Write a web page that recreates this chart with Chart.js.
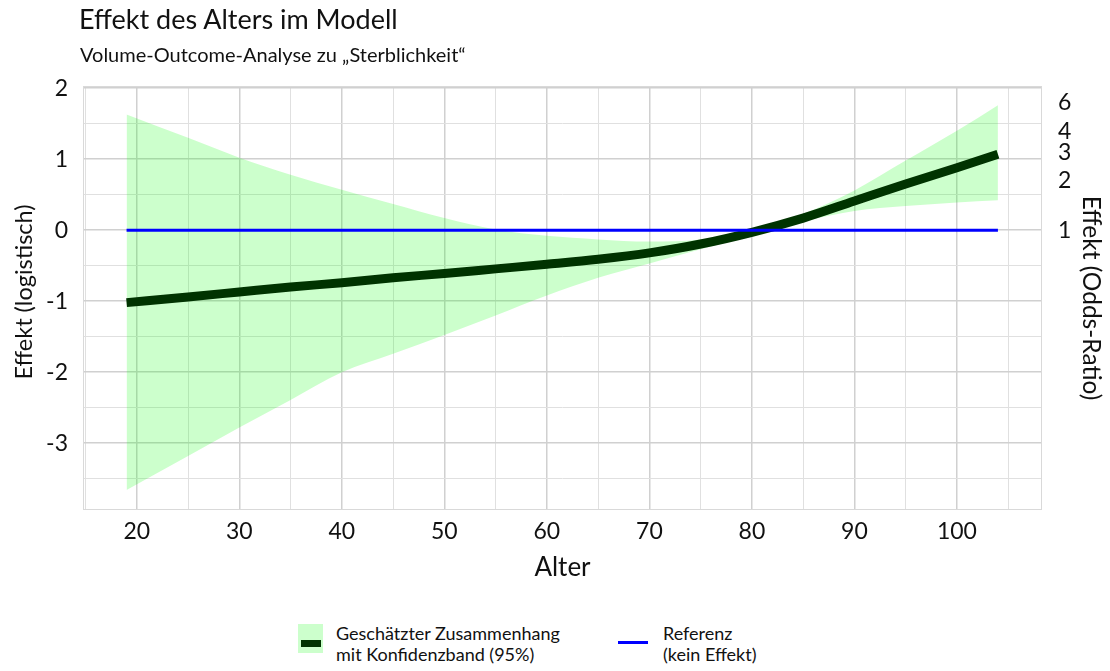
<!DOCTYPE html>
<html>
<head>
<meta charset="utf-8">
<script src="https://cdn.jsdelivr.net/npm/chart.js@4/dist/chart.umd.min.js"></script>
<style>
  html, body { margin:0; padding:0; background:#fff; }
  body { width:1110px; height:671px; position:relative; overflow:hidden; font-family: Lato, "Open Sans", sans-serif; color:#111; }
  #c { position:absolute; left:0; top:0; }
  .title { position:absolute; left:79px; top:3px; font-size:27px; line-height:32px; white-space:nowrap; }
  .subtitle { position:absolute; left:80px; top:43px; font-size:20px; line-height:22px; white-space:nowrap; }
  .leg { position:absolute; font-size:18px; line-height:21px; white-space:nowrap; }
  .sw1 { position:absolute; left:298px; top:624px; width:25px; height:29px; background:#ccffcc; }
  .sw1 i { position:absolute; left:3px; top:16px; width:20px; height:7px; background:#003300; }
  .sw2 { position:absolute; left:618px; top:641px; width:30px; height:3px; background:#0000ff; }
</style>
</head>
<body>
<canvas id="c" width="1110" height="600"></canvas>
<div class="title">Effekt des Alters im Modell</div>
<div class="subtitle">Volume-Outcome-Analyse zu „Sterblichkeit“</div>
<div class="sw1"><i></i></div>
<div class="leg" style="left:336px; top:623px;">Geschätzter Zusammenhang<br>mit Konfidenzband (95%)</div>
<div class="sw2"></div>
<div class="leg" style="left:663px; top:623px;">Referenz<br>(kein Effekt)</div>
<script>
// ---- data ----
const ages      = [19, 25, 30, 35, 40, 45, 50, 55, 60, 65, 70, 75, 80, 85, 90, 95, 100, 104];
const estimate  = [-1.02, -0.94, -0.87, -0.80, -0.74, -0.67, -0.61, -0.545, -0.48, -0.41, -0.32, -0.195, -0.03, 0.17, 0.41, 0.65, 0.88, 1.07];
const upperCI   = [1.63, 1.30, 1.02, 0.78, 0.57, 0.37, 0.17, 0.01, -0.08, -0.13, -0.16, -0.13, 0.00, 0.23, 0.56, 0.98, 1.40, 1.76];
const lowerCI   = [-3.66, -3.18, -2.78, -2.39, -2.00, -1.74, -1.475, -1.20, -0.92, -0.67, -0.47, -0.27, -0.08, 0.12, 0.27, 0.34, 0.39, 0.42];
const refAges   = [19, 104];
const refValues = [0, 0];
const xTickValues = [15, 20, 25, 30, 35, 40, 45, 50, 55, 60, 65, 70, 75, 80, 85, 90, 95, 100, 105];
const yTickValues = [-3.5, -3, -2.5, -2, -1.5, -1, -0.5, 0, 0.5, 1, 1.5, 2];
const oddsRatioTicks = [1, 2, 3, 4, 6];

const pts = (xs, ys) => xs.map((x, i) => ({x, y: ys[i]}));
const FONT = "Lato, 'Open Sans', sans-serif";
const isMajor = v => Math.abs(v - Math.round(v)) < 1e-9;

const borderPlugin = {
  id: 'areaBorder',
  beforeDatasetsDraw(chart) {
    const {ctx, chartArea: a} = chart;
    ctx.save();
    ctx.strokeStyle = '#d9d9d9';
    ctx.lineWidth = 1;
    ctx.strokeRect(a.left + 0.5, a.top + 0.5, a.right - a.left - 1, a.bottom - a.top - 1);
    ctx.restore();
  }
};

new Chart(document.getElementById('c'), {
  type: 'line',
  data: {
    datasets: [
      { label: 'Referenz', data: pts(refAges, refValues), borderColor: '#0000ff', borderWidth: 3, pointRadius: 0, fill: false },
      { label: 'Geschätzter Zusammenhang', data: pts(ages, estimate), borderColor: '#003300', borderWidth: 9, pointRadius: 0, cubicInterpolationMode: 'monotone', fill: false, borderCapStyle: 'butt' },
      { label: 'obere Grenze', data: pts(ages, upperCI), borderColor: 'transparent', borderWidth: 0, pointRadius: 0, cubicInterpolationMode: 'monotone', fill: '+1', backgroundColor: 'rgba(0,255,0,0.2)' },
      { label: 'untere Grenze', data: pts(ages, lowerCI), borderColor: 'transparent', borderWidth: 0, pointRadius: 0, cubicInterpolationMode: 'monotone', fill: false }
    ]
  },
  options: {
    responsive: false,
    animation: false,
    events: [],
    layout: { padding: { top: 86, left: 0, right: 0, bottom: 0 } },
    plugins: { legend: { display: false }, title: { display: false }, tooltip: { enabled: false } },
    scales: {
      x: {
        type: 'linear', min: 14.75, max: 108.3,
        afterFit: s => { s.height = 90; },
        afterBuildTicks: s => { s.ticks = xTickValues.map(v => ({value: v})); },
        grid: { drawTicks: false, color: c => isMajor(c.tick.value / 10) ? '#d0d0d0' : '#e0e0e0', lineWidth: c => isMajor(c.tick.value / 10) ? 1.5 : 1 },
        border: { display: false },
        ticks: { padding: 8, autoSkip: false, maxRotation: 0, color: '#111', font: { family: FONT, size: 23 },
                 callback: v => (v % 10 === 0 ? String(v) : '') },
        title: { display: true, text: 'Alter', color: '#111', font: { family: FONT, size: 26 }, padding: { top: 0, bottom: 17 } }
      },
      y: {
        type: 'linear', position: 'left', min: -3.94, max: 2.03,
        afterFit: s => { s.width = 83; },
        afterBuildTicks: s => { s.ticks = yTickValues.map(v => ({value: v})); },
        grid: { drawTicks: false, color: c => isMajor(c.tick.value) ? '#d0d0d0' : '#e0e0e0', lineWidth: c => isMajor(c.tick.value) ? 1.5 : 1 },
        border: { display: false },
        ticks: { padding: 15, color: '#111', font: { family: FONT, size: 23 },
                 callback: v => (isMajor(v) ? String(v) : '') },
        title: { display: true, text: '  Effekt (logistisch)', color: '#111', font: { family: FONT, size: 23.5 }, padding: { top: 10, bottom: 0 } }
      },
      y2: {
        type: 'linear', position: 'right', min: -3.94, max: 2.03,
        afterFit: s => { s.width = 68; },
        afterBuildTicks: s => { s.ticks = oddsRatioTicks.map(v => ({value: Math.log(v)})); },
        grid: { display: false, drawTicks: false },
        border: { display: false },
        ticks: { padding: 16, color: '#111', font: { family: FONT, size: 23 },
                 callback: v => String(Math.round(Math.exp(v))) },
        title: { display: true, text: 'Effekt (Odds-Ratio)', color: '#111', font: { family: FONT, size: 24.5 }, padding: { top: 4, bottom: 0 } }
      }
    }
  },
  plugins: [borderPlugin]
});
</script>
</body>
</html>
